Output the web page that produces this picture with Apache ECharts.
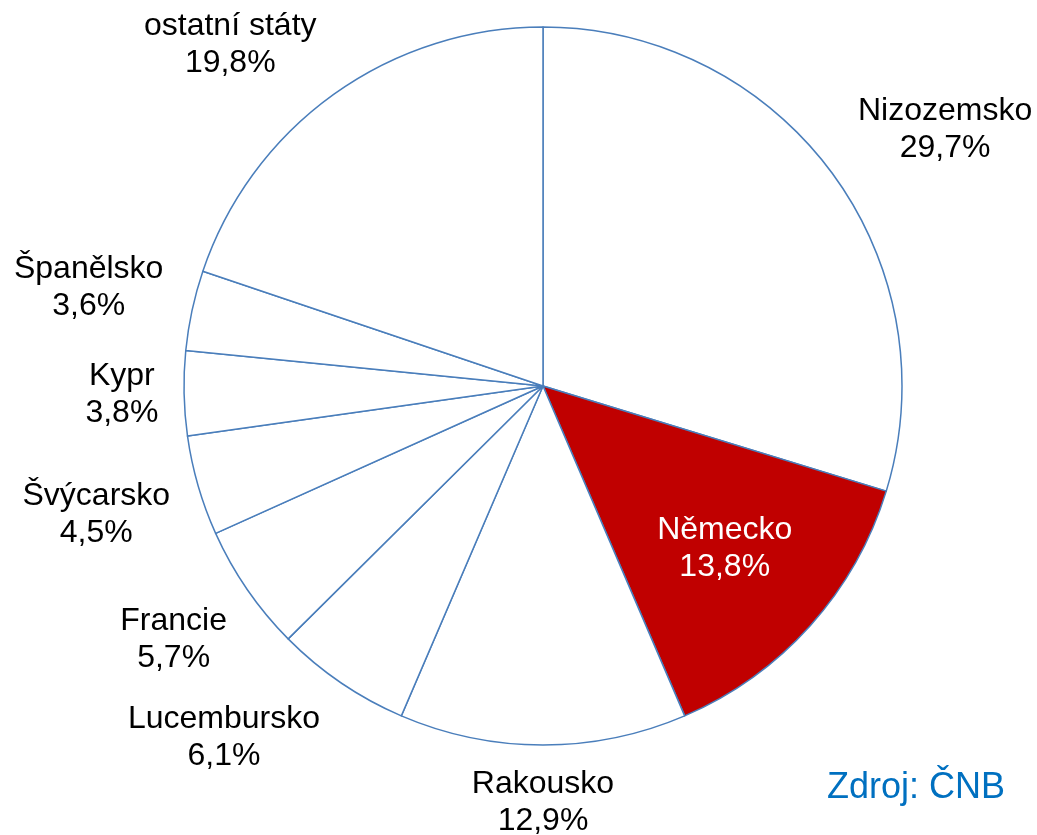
<!DOCTYPE html>
<html>
<head>
<meta charset="utf-8">
<title>Pie</title>
<script src="https://cdn.jsdelivr.net/npm/echarts@6/dist/echarts.min.js"></script>
<style>
  html, body { margin: 0; padding: 0; background: #fff; }
  #chart { width: 1037px; height: 835px; }
</style>
</head>
<body>
<div id="chart"></div>
<script>
// data, clockwise from 12 o'clock
var countries = ['Nizozemsko', 'Německo', 'Rakousko', 'Lucembursko', 'Francie', 'Švýcarsko', 'Kypr', 'Španělsko', 'ostatní státy'];
var shares = [29.7, 13.8, 12.9, 6.1, 5.7, 4.5, 3.8, 3.6, 19.8];
var highlighted = ['Německo'];
var sourceText = 'Zdroj: ČNB';

var CX = 543, CY = 386, R = 359;
var TOP_LIMIT = 8;
var FONT = '"Liberation Sans", Arial, sans-serif';
// labels that Excel slid a bit along the rim (degrees, clockwise)
var labelShift = { 'Nizozemsko': 4, 'Lucembursko': 8 };

var total = shares.reduce(function (a, b) { return a + b; }, 0);
// mid angle of each slice (radians, clockwise from top)
var midAngles = [];
var acc = 0;
shares.forEach(function (v) {
  midAngles.push((acc + v / 2) / total * Math.PI * 2);
  acc += v;
});

function fmt(v) {
  return v.toFixed(1).replace('.', ',') + '%';
}

var chartDom = document.getElementById('chart');
var myChart = echarts.init(chartDom, null, { renderer: 'canvas' });

var option = {
  animation: false,
  backgroundColor: '#ffffff',
  title: {
    text: sourceText,
    right: 32,
    bottom: 29,
    padding: 0,
    textStyle: { color: '#0070C0', fontSize: 36, fontWeight: 'normal', fontFamily: FONT }
  },
  series: [
    {
      type: 'pie',
      center: [CX, CY],
      radius: [0, R],
      startAngle: 90,
      clockwise: true,
      avoidLabelOverlap: false,
      itemStyle: { color: '#ffffff', borderColor: '#4A7EBB', borderWidth: 1.5 },
      label: {
        show: true,
        position: 'outside',
        formatter: function (p) { return p.name + '\n' + fmt(p.value); },
        color: '#000000',
        fontSize: 32,
        lineHeight: 37,
        fontFamily: FONT,
        align: 'center'
      },
      labelLine: { show: false },
      emphasis: { disabled: true },
      // Excel-like placement: box just outside the rim on the mid angle,
      // slid along the arc when it would leave the top of the chart
      labelLayout: function (p) {
        var i = p.dataIndex;
        var a = midAngles[i] + (labelShift[countries[i]] || 0) * Math.PI / 180;
        var s = Math.sin(a), c = Math.cos(a);
        var w = p.labelRect.width, h = p.labelRect.height;
        if (highlighted.indexOf(countries[i]) >= 0) {
          var di = R * 0.68;
          return { x: CX + di * s, y: CY - di * c, align: 'center', verticalAlign: 'middle' };
        }
        var d = R + 21 + 4 * Math.abs(s) + Math.abs(s) * w / 2 + Math.abs(c) * h / 2;
        var x = CX + d * s;
        var y = CY - d * c;
        if (y - h / 2 < TOP_LIMIT) {
          y = TOP_LIMIT + h / 2;
          var dy = CY - y;
          x = CX + (s < 0 ? -1 : 1) * Math.sqrt(Math.max(0, d * d - dy * dy));
        }
        return { x: x, y: y, align: 'center', verticalAlign: 'middle' };
      },
      data: countries.map(function (name, i) {
        var hi = highlighted.indexOf(name) >= 0;
        return {
          name: name,
          value: shares[i],
          itemStyle: hi ? { color: '#C00000' } : undefined,
          label: hi ? { color: '#ffffff' } : undefined
        };
      })
    }
  ]
};

myChart.setOption(option);
</script>
</body>
</html>
